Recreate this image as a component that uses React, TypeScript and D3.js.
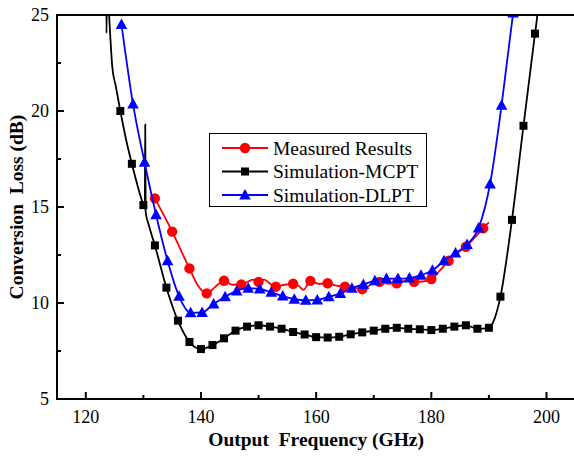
import React from "react";
import * as d3 from "d3";

// ---- Data ----
const xTicks = [120, 140, 160, 180, 200];
const xMinorTicks = [130, 150, 170, 190];
const yTicks = [5, 10, 15, 20, 25];
const yMinorTicks = [7.5, 12.5, 17.5, 22.5];

// Measured results: markers
const measuredFreq = [132, 135, 138, 141, 144, 147, 150, 153, 156, 159, 162, 165, 168, 171, 174, 177, 180, 183, 186, 189];
const measuredLoss = [15.45, 13.72, 11.8, 10.5, 11.16, 10.96, 11.1, 10.85, 11.0, 11.15, 11.03, 10.85, 10.72, 11.1, 11.03, 11.1, 11.25, 12.2, 12.93, 13.89];
// Measured results: full trace
const measuredTraceFreq = [132, 135, 138, 139.5, 141, 142.5, 144, 145.5, 147, 148.2, 149, 150, 151, 152, 153, 154.5, 156, 157, 157.8, 159, 160.5, 162, 163.5, 165, 166.5, 168, 169.5, 171, 172.5, 174, 175.5, 177, 178.5, 180, 181.5, 183, 184.5, 186, 187.5, 189, 190];
const measuredTraceLoss = [15.45, 13.72, 11.8, 10.9, 10.5, 10.85, 11.16, 10.95, 10.96, 11.12, 11.22, 11.1, 11.22, 11.0, 10.85, 10.95, 11.0, 10.88, 10.68, 11.15, 11.0, 11.03, 10.9, 10.85, 10.8, 10.72, 10.95, 11.1, 11.0, 11.03, 11.15, 11.1, 11.12, 11.25, 11.7, 12.2, 12.6, 12.93, 13.4, 13.89, 14.2];

// Simulation-MCPT: markers
const mcptFreq = [126, 128, 130, 132, 134, 136, 138, 140, 142, 144, 146, 148, 150, 152, 154, 156, 158, 160, 162, 164, 166, 168, 170, 172, 174, 176, 178, 180, 182, 184, 186, 188, 190, 192, 194, 196, 198];
const mcptLoss = [20.0, 17.25, 15.1, 13.0, 10.8, 9.08, 7.97, 7.6, 7.81, 8.16, 8.56, 8.77, 8.84, 8.77, 8.66, 8.49, 8.36, 8.22, 8.2, 8.24, 8.37, 8.47, 8.56, 8.66, 8.71, 8.66, 8.63, 8.59, 8.66, 8.77, 8.84, 8.66, 8.71, 10.33, 14.33, 19.23, 24.03];
// Simulation-MCPT: full trace (with spikes)
const mcptTraceFreq = [123.5, 123.6, 123.7, 124.05, 124.6, 125.2, 126, 127, 128, 129, 130, 130.25, 130.32, 130.39, 131, 132, 134, 136, 138, 140, 142, 144, 146, 148, 150, 152, 154, 156, 158, 160, 162, 164, 166, 168, 170, 172, 174, 176, 178, 180, 182, 184, 186, 188, 190, 191, 192, 194, 196, 198, 198.4, 199];
const mcptTraceLoss = [27, 24.06, 27, 25.0, 22.3, 21.3, 20.0, 18.5, 17.25, 16.1, 15.1, 14.9, 19.3, 14.75, 14.0, 13.0, 10.8, 9.08, 7.97, 7.6, 7.81, 8.16, 8.56, 8.77, 8.84, 8.77, 8.66, 8.49, 8.36, 8.22, 8.2, 8.24, 8.37, 8.47, 8.56, 8.66, 8.71, 8.66, 8.63, 8.59, 8.66, 8.77, 8.84, 8.66, 8.71, 9.2, 10.33, 14.33, 19.23, 24.03, 25.0, 28];

// Simulation-DLPT
const dlptFreq = [126.2, 128.2, 130.2, 132.2, 134.2, 136.2, 138.2, 140.2, 142.2, 144.2, 146.2, 148.2, 150.2, 152.2, 154.2, 156.2, 158.2, 160.2, 162.2, 164.2, 166.2, 168.2, 170.2, 172.2, 174.2, 176.2, 178.2, 180.2, 182.2, 184.2, 186.2, 188.2, 190.2, 192.2, 194.2];
const dlptLoss = [24.5, 20.36, 17.33, 14.6, 12.2, 10.35, 9.49, 9.51, 9.95, 10.33, 10.63, 10.77, 10.73, 10.56, 10.36, 10.2, 10.14, 10.16, 10.32, 10.5, 10.77, 10.97, 11.16, 11.27, 11.27, 11.3, 11.45, 11.7, 12.2, 12.6, 13.05, 13.9, 16.2, 20.3, 25.1];

const legendLabels = ["Measured Results", "Simulation-MCPT", "Simulation-DLPT"];
const seriesColors = ["#ff0000", "#000000", "#0000ff"];

// ---- Layout ----
const W = 574;
const H = 458;
const plotLeft = 57;
const plotRight = 575.3;
const plotTop = 15;
const plotBottom = 399;
const FONT = "Liberation Serif, Tinos, Times New Roman, Times, DejaVu Serif, serif";

const x = d3.scaleLinear().domain([115, 205]).range([plotLeft, plotRight]);
const y = d3.scaleLinear().domain([5, 25]).range([plotBottom, plotTop]);

type Pt = [number, number];
const zip = (a: number[], b: number[]): Pt[] => a.map((v, i) => [v, b[i]]);

const line = d3
  .line<Pt>()
  .x((d) => x(d[0]))
  .y((d) => y(d[1]))
  .curve(d3.curveMonotoneX);

const Circle = ({ cx, cy, color }: { cx: number; cy: number; color: string }) => (
  <circle cx={cx} cy={cy} r={5.2} fill={color} />
);
const Square = ({ cx, cy, color }: { cx: number; cy: number; color: string }) => (
  <rect x={cx - 4} y={cy - 4} width={8} height={8} fill={color} />
);
const Triangle = ({ cx, cy, color }: { cx: number; cy: number; color: string }) => (
  <path d={`M${cx},${cy - 6} L${cx + 5.8},${cy + 4.5} L${cx - 5.8},${cy + 4.5} Z`} fill={color} />
);

const textStyle: React.CSSProperties = { fontFamily: FONT, whiteSpace: "pre" };

export default function App() {
  const measuredTrace = zip(measuredTraceFreq, measuredTraceLoss);
  const measuredPts = zip(measuredFreq, measuredLoss);
  const mcptTrace = zip(mcptTraceFreq, mcptTraceLoss);
  const mcptPts = zip(mcptFreq, mcptLoss);
  const dlptPts = zip(dlptFreq, dlptLoss);

  const legendX0 = 222;
  const legendX1 = 268;
  const legendRows = [148, 171.5, 195];

  return (
    <svg
      width={W}
      height={H}
      style={{ position: "fixed", left: 0, top: 0, background: "#fff", fontFamily: FONT }}
    >
      <rect x={0} y={0} width={W} height={H} fill="#fff" />
      <defs>
        <clipPath id="plotClip">
          <rect x={plotLeft} y={plotTop} width={plotRight - plotLeft} height={plotBottom - plotTop} />
        </clipPath>
      </defs>

      <g clipPath="url(#plotClip)">
        {/* Measured */}
        <path d={line(measuredTrace) || ""} fill="none" stroke={seriesColors[0]} strokeWidth={1.8} />
        {measuredPts.map((p, i) => (
          <Circle key={"m" + i} cx={x(p[0])} cy={y(p[1])} color={seriesColors[0]} />
        ))}
        {/* MCPT */}
        <path d={line(mcptTrace) || ""} fill="none" stroke={seriesColors[1]} strokeWidth={1.8} />
        {mcptPts.map((p, i) => (
          <Square key={"s" + i} cx={x(p[0])} cy={y(p[1])} color={seriesColors[1]} />
        ))}
        {/* DLPT */}
        <path d={line(dlptPts) || ""} fill="none" stroke={seriesColors[2]} strokeWidth={1.8} />
        {dlptPts.map((p, i) => (
          <Triangle key={"t" + i} cx={x(p[0])} cy={y(p[1])} color={seriesColors[2]} />
        ))}
      </g>

      {/* Frame */}
      <line x1={plotLeft} x2={plotRight} y1={plotTop} y2={plotTop} stroke="#000" strokeWidth={2} />
      <line x1={plotLeft} x2={plotRight} y1={plotBottom} y2={plotBottom} stroke="#000" strokeWidth={2} />
      <line x1={plotLeft} x2={plotLeft} y1={plotTop - 1} y2={plotBottom + 1} stroke="#000" strokeWidth={2} />

      {/* X ticks */}
      {xTicks.map((t) => (
        <g key={"xt" + t}>
          <line x1={x(t)} x2={x(t)} y1={plotBottom} y2={plotBottom - 7} stroke="#000" strokeWidth={2} />
          <text x={x(t)} y={423} textAnchor="middle" fontSize={18} fill="#000" style={textStyle}>
            {t}
          </text>
        </g>
      ))}
      {xMinorTicks.map((t) => (
        <line key={"xm" + t} x1={x(t)} x2={x(t)} y1={plotBottom} y2={plotBottom - 4} stroke="#000" strokeWidth={2} />
      ))}

      {/* Y ticks */}
      {yTicks.map((t) => (
        <g key={"yt" + t}>
          <line x1={plotLeft} x2={plotLeft + 7} y1={y(t)} y2={y(t)} stroke="#000" strokeWidth={2} />
          <text x={49} y={y(t)} dy="0.35em" textAnchor="end" fontSize={18} fill="#000" style={textStyle}>
            {t}
          </text>
        </g>
      ))}
      {yMinorTicks.map((t) => (
        <line key={"ym" + t} x1={plotLeft} x2={plotLeft + 4} y1={y(t)} y2={y(t)} stroke="#000" strokeWidth={2} />
      ))}

      {/* Axis titles */}
      <text
        x={(plotLeft + plotRight) / 2}
        y={446}
        textAnchor="middle"
        fontSize={19.5}
        fontWeight="bold"
        style={textStyle}
        fill="#000"
      >
        {"Output  Frequency (GHz)"}
      </text>
      <text
        transform={`translate(23, ${(plotTop + plotBottom) / 2}) rotate(-90)`}
        textAnchor="middle"
        fontSize={19.5}
        fontWeight="bold"
        style={textStyle}
        fill="#000"
      >
        {"Conversion  Loss (dB)"}
      </text>

      {/* Legend */}
      <rect x={209.5} y={133.5} width={217} height={73} fill="#fff" stroke="#000" strokeWidth={1} />
      {legendLabels.map((lab, i) => {
        const cy = legendRows[i];
        const cx = (legendX0 + legendX1) / 2;
        const c = seriesColors[i];
        return (
          <g key={"lg" + i}>
            <line x1={legendX0} x2={legendX1} y1={cy} y2={cy} stroke={c} strokeWidth={1.8} />
            {i === 0 && <Circle cx={cx} cy={cy} color={c} />}
            {i === 1 && <Square cx={cx} cy={cy} color={c} />}
            {i === 2 && <Triangle cx={cx} cy={cy} color={c} />}
            <text x={273} y={cy + 6.5} fontSize={19.5} fill="#000" style={textStyle}>
              {lab}
            </text>
          </g>
        );
      })}
    </svg>
  );
}
